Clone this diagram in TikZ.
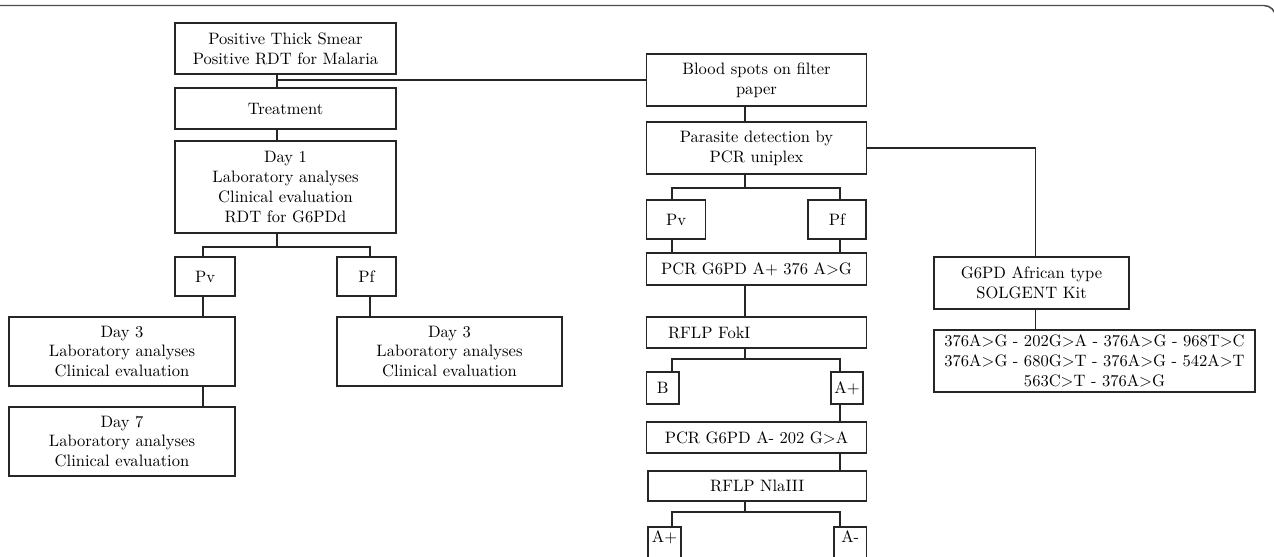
\documentclass[tikz,border=0pt]{standalone}
\newcommand{\pxu}{0.605pt}
\begin{document}
\begin{tikzpicture}[x=\pxu, y=-\pxu,
	box/.style={draw=black!85, line width=1.05pt, align=center, inner sep=0pt},
	wh/.style 2 args={minimum width=#1*\pxu, minimum height=#2*\pxu},
	link/.style={draw=black!85, line width=0.95pt}]
		\useasboundingbox (0,0) rectangle (1274,556);
		%frame
		\draw[black!70, line width=0.9pt, rounded corners=7] (-20,5.5) -- (1275.5,5.5) -- (1275.5,600);
		
		%columns of the connectors
		\coordinate (lc) at (277,0);
		\coordinate (ll) at (203,0);
		\coordinate (lr) at (370,0);
		\coordinate (rc) at (745,0);
		\coordinate (cL) at (672,0);
		\coordinate (cR) at (840,0);
		\coordinate (kx) at (1035.5,0);
		
		%clinical follow-up
		\node[box, wh={221}{51}] (smear) at (285.5,48.5) {Positive Thick Smear\\Positive RDT for Malaria};
		\node[box, wh={221}{41}] (treat) at (285.5,108.5) {Treatment};
		\node[box, wh={221}{92}] (day1) at (285.5,187) {Day 1\\Laboratory analyses\\Clinical evaluation\\RDT for G6PDd};
		\node[box, wh={60}{39}] (pv) at (205,276.5) {Pv};
		\node[box, wh={59}{39}] (pf) at (366.5,276.5) {Pf};
		\node[box, wh={226}{69}] (dayA) at (122,351.5) {Day 3\\Laboratory analyses\\Clinical evaluation};
		\node[box, wh={226}{69}] (dayB) at (122,441.5) {Day 7\\Laboratory analyses\\Clinical evaluation};
		\node[box, wh={225}{69}] (dayC) at (449.5,351.5) {Day 3\\Laboratory analyses\\Clinical evaluation};
		
		%molecular tests
		\node[box, wh={220}{52}] (blood) at (756.5,80) {Blood spots on filter\\paper};
		\node[box, wh={220}{52}] (para) at (756.5,148) {Parasite detection by\\PCR uniplex};
		\node[box, wh={59}{39}] (pvb) at (676,219.5) {Pv};
		\node[box, wh={58}{39}] (pfb) at (837,219.5) {Pf};
		\node[box, wh={220}{32}] (pcrA) at (756.5,269) {PCR G6PD A+ 376 A>G};
		\node[box, wh={220}{31}, text width=177*\pxu, align=left] (fokI) at (756.5,332.5) {RFLP FokI};
		\node[box, wh={32.5}{32}] (bB) at (662.75,388) {B};
		\node[box, wh={32}{32}] (bAp) at (847,388) {A+};
		\node[box, wh={220}{31}] (pcrB) at (756.5,437.5) {PCR G6PD A- 202 G>A};
		\node[box, wh={218.5}{30}] (nla) at (757.25,486) {RFLP NlaIII};
		\node[box, wh={33}{0}, anchor=north, inner ysep=2pt, text depth=20pt] (cAp) at (664.5,526) {A+};
		\node[box, wh={32.5}{0}, anchor=north, inner ysep=2pt, text depth=20pt] (cAm) at (850.25,526) {A-};
		
		%kit
		\node[box, wh={195}{52}] (kit) at (1031.5,283) {G6PD African type\\SOLGENT Kit};
		\node[box, wh={321}{62}] (muts) at (1094.5,361) {376A>G - 202G>A - 376A>G - 968T>C\\376A>G - 680G>T - 376A>G - 542A>T\\563C>T - 376A>G};
		
		%left links
		\draw[link] (smear.south -| lc) -- (treat.north -| lc);
		\draw[link] (treat.south -| lc) -- (day1.north -| lc);
		\draw[link] (lc |- blood.west) -- (blood.west);
		\draw[link] (day1.south -| lc) -- ++(0,13) coordinate (j1);
		\draw[link] (ll |- pv.north) |- (j1) -| (lr |- pf.north);
		\draw[link] (ll |- pv.south) -- (ll |- dayA.north);
		\draw[link] (ll |- dayA.south) -- (ll |- dayB.north);
		\draw[link] (lr |- pf.south) -- (lr |- dayC.north);
		
		%middle links
		\foreach \a/\b in {blood/para, pcrA/fokI}{
			\draw[link] (\a.south -| rc) -- (\b.north -| rc);
		}
		\draw[link] (para.south -| rc) -- ++(0,13) coordinate (j2);
		\draw[link] (cL |- pvb.north) |- (j2) -| (cR |- pfb.north);
		\draw[link] (cL |- pvb.south) -- (cL |- pcrA.north);
		\draw[link] (cR |- pfb.south) -- (cR |- pcrA.north);
		\draw[link] (fokI.south -| rc) -- ++(0,10) coordinate (j3);
		\draw[link] (cL |- bB.north) |- (j3) -| (cR |- bAp.north);
		\draw[link] (cR |- bAp.south) -- (cR |- pcrB.north);
		\draw[link] (cR |- pcrB.south) -- (cR |- nla.north);
		\draw[link] (nla.south -| rc) -- ++(0,10) coordinate (j4);
		\draw[link] (cL |- cAp.north) |- (j4) -| (cR |- cAm.north);
		
		%right links
		\draw[link] (para.east) -| (kx |- kit.north);
		\draw[link] (kx |- kit.south) -- (kx |- muts.north);
\end{tikzpicture}
\end{document}
